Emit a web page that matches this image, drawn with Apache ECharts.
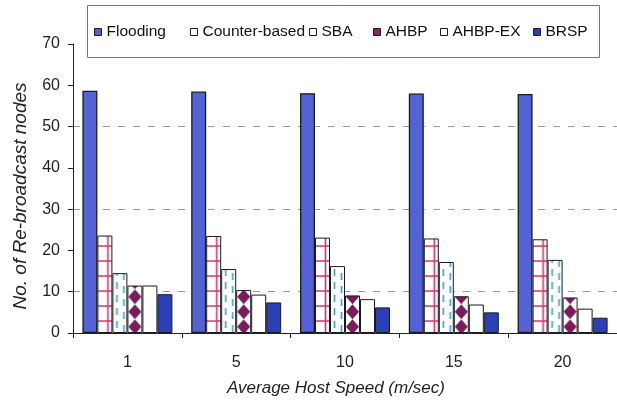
<!DOCTYPE html>
<html>
<head>
<meta charset="utf-8">
<script src="https://cdn.jsdelivr.net/npm/echarts@6/dist/echarts.min.js"></script>
<style>
  html, body { margin: 0; padding: 0; background: #fff; }
  #chart { width: 617px; height: 408px; }
</style>
</head>
<body>
<div id="chart"></div>
<script>
// Average host speed (m/sec) on the category axis
const categories = ['1', '5', '10', '15', '20'];

// Number of re-broadcast nodes per protocol
const flooding     = [58.7, 58.5, 58.1, 58.0, 57.9];
const counterBased = [23.6, 23.5, 23.1, 22.9, 22.7];
const sba          = [14.5, 15.5, 16.2, 17.2, 17.7];
const ahbp         = [11.5, 10.4, 9.1, 8.9, 8.6];
const ahbpEx       = [11.5, 9.3, 8.2, 6.9, 5.9];
const brsp         = [9.4, 7.4, 6.2, 5.0, 3.7];

const seriesNames = ['Flooding', 'Counter-based', 'SBA', 'AHBP', 'AHBP-EX', 'BRSP'];
const seriesValues = [flooding, counterBased, sba, ahbp, ahbpEx, brsp];

const FONT = '"Liberation Sans", Arial, sans-serif';
const BAR_W = 15;

// Fill tiles for the hatched bars
function makeTile(w, h, draw) {
  const c = document.createElement('canvas');
  c.width = w; c.height = h;
  const g = c.getContext('2d');
  g.fillStyle = '#ffffff';
  g.fillRect(0, 0, w, h);
  draw(g);
  return c;
}
const gridTile = makeTile(15, 15, g => {
  g.strokeStyle = '#d3336b';
  g.lineWidth = 1.6;
  g.beginPath();
  g.moveTo(0, 3); g.lineTo(15, 3);
  g.moveTo(10.5, 0); g.lineTo(10.5, 15);
  g.stroke();
});
const dashTile = makeTile(15, 13, g => {
  g.strokeStyle = '#3b98dc';
  g.lineWidth = 1.6;
  g.beginPath();
  g.moveTo(4.5, 1); g.lineTo(4.5, 8);
  g.moveTo(11.5, 5); g.lineTo(11.5, 12);
  g.stroke();
});
const diamondTile = makeTile(15, 15, g => {
  g.fillStyle = '#7b1b5d';
  g.beginPath();
  g.moveTo(7.5, 1.2); g.lineTo(14, 8.7); g.lineTo(7.5, 16.2); g.lineTo(1, 8.7);
  g.closePath();
  g.fill();
  g.beginPath();
  g.moveTo(7.5, -13.8); g.lineTo(14, -6.3); g.lineTo(7.5, 1.2); g.lineTo(1, -6.3);
  g.closePath();
  g.fill();
});

const solidColors = ['#5363d6', null, null, null, '#ffffff', '#2b40b6'];
const tiles = [null, gridTile, dashTile, diamondTile, null, null];
const legendColors = ['#5363d6', '#ffffff', '#ffffff', '#8a2467', '#ffffff', '#2b40b6'];
// x where each legend label's text begins
const legendTextX = [106, 202, 321, 385, 452, 545];

const chart = echarts.init(document.getElementById('chart'), null, { renderer: 'canvas' });

function buildSeries(offsets) {
  return seriesNames.map((name, k) => ({
    name,
    type: 'bar',
    barWidth: BAR_W,
    barGap: '0%',
    itemStyle: {
      color: solidColors[k] || '#ffffff',
      borderColor: '#1b1b1b',
      borderWidth: k === 0 ? 1.3 : 1
    },
    data: seriesValues[k].map((v, i) => {
      if (!tiles[k] || !offsets) return v;
      return {
        value: v,
        itemStyle: {
          color: {
            image: tiles[k],
            repeat: 'repeat',
            x: offsets.centers[i] - 3 * BAR_W + k * BAR_W,
            y: offsets.base
          }
        }
      };
    })
  }));
}

const option = {
  animation: false,
  backgroundColor: '#ffffff',
  grid: { left: 73, right: -9, top: 44, bottom: 75, containLabel: false },
  legend: seriesNames.map((name, k) => ({
    data: [{ name, itemStyle: { color: legendColors[k], borderColor: '#1b1b1b', borderWidth: 1 } }],
    left: legendTextX[k] - 12,
    top: 24,
    padding: 0,
    icon: 'rect',
    itemWidth: 7,
    itemHeight: 7,
    selectedMode: false,
    textStyle: { fontFamily: FONT, fontSize: 15.5, color: '#111' }
  })),
  xAxis: {
    type: 'category',
    data: categories,
    axisLine: { lineStyle: { color: '#222', width: 1 } },
    axisTick: { show: true, length: 5, lineStyle: { color: '#222' } },
    axisLabel: { fontFamily: FONT, fontSize: 16, color: '#222', margin: 22 }
  },
  yAxis: {
    type: 'value',
    min: 0,
    max: 70,
    interval: 10,
    axisLine: { show: true, lineStyle: { color: '#222', width: 1 } },
    axisTick: { show: true, length: 5, lineStyle: { color: '#222' } },
    axisLabel: { fontFamily: FONT, fontSize: 16, color: '#222', margin: 13 },
    splitLine: {
      show: true,
      lineStyle: {
        type: [7, 8],
        width: 1,
        color: ['transparent', '#9a9a9a', 'transparent', '#9a9a9a', 'transparent', '#9a9a9a', 'transparent', 'transparent']
      }
    }
  },
  graphic: [
    {
      type: 'rect',
      shape: { x: 87.5, y: 5.5, width: 512, height: 52 },
      style: { fill: '#ffffff', stroke: '#777777', lineWidth: 1 },
      z: 1
    },
    {
      type: 'text',
      x: 336, y: 388,
      style: {
        text: 'Average Host Speed (m/sec)',
        font: 'italic 17px ' + FONT,
        fill: '#222',
        align: 'center',
        verticalAlign: 'middle'
      }
    },
    {
      type: 'text',
      x: 21, y: 196,
      rotation: Math.PI / 2,
      style: {
        text: 'No. of Re-broadcast nodes',
        font: 'italic 19px ' + FONT,
        fill: '#222',
        align: 'center',
        verticalAlign: 'middle'
      }
    }
  ],
  series: buildSeries(null)
};

chart.setOption(option);

// Anchor each hatch tile to its own bar so the pattern starts at the bar edge
const centers = categories.map((c, i) => chart.convertToPixel({ xAxisIndex: 0 }, i));
const base = chart.convertToPixel({ yAxisIndex: 0 }, 0);
chart.setOption({ series: buildSeries({ centers, base }) });
</script>
</body>
</html>
